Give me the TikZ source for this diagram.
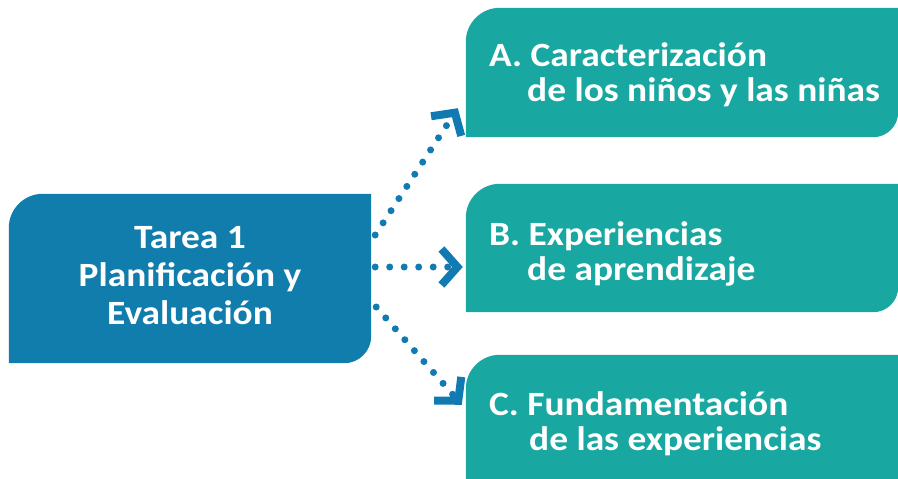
\documentclass[tikz,border=0pt]{standalone}
\usepackage{fontspec}
\setmainfont{Carlito}[FakeStretch=1.1]
\usetikzlibrary{arrows.meta,calc}
\definecolor{boxblue}{RGB}{16,125,172}
\definecolor{boxteal}{RGB}{25,167,161}
\definecolor{arrowblue}{RGB}{17,122,176}
\newcommand\tabshape[4]{%
  \fill[#2] (#1.south west) -- ([yshift=-#3]#1.north west)
    arc[start angle=180,end angle=90,radius=#3] -- (#1.north east)
    -- ([yshift=#4]#1.south east)
    arc[start angle=0,end angle=-90,radius=#4] -- cycle;}
\tikzset{
  boxnode/.style={rectangle, inner sep=0pt, minimum width=#1},
  lefttext/.style={text=white, font=\fontsize{34}{38}\selectfont\bfseries, align=center},
  righttext/.style={text=white, font=\fontsize{34}{35}\selectfont\bfseries, align=left, anchor=base west, inner sep=0pt},
  dotarrow/.style={draw=arrowblue, line width=7pt, line cap=round,
    dash pattern=on 0pt off 14.5pt,
    -{Straight Barb[length=16pt,width=36pt,line width=8pt,sharp]}}
}
\begin{document}
\begin{tikzpicture}[x=1pt,y=1pt]
\useasboundingbox (0,0) rectangle (898,-479);
\clip (0,0) rectangle (898,-479);
% boxes
\node[boxnode=362pt, minimum height=169pt] (L) at (190,-278.5) {};
\node[boxnode=432pt, minimum height=129pt] (A) at (682,-72.5) {};
\node[boxnode=432pt, minimum height=128pt] (B) at (682,-248) {};
\node[boxnode=432pt, minimum height=165pt] (C) at (682,-437.5) {};
\tabshape{L}{boxblue}{34pt}{27pt}
\tabshape{A}{boxteal}{34pt}{25pt}
\tabshape{B}{boxteal}{34pt}{25pt}
\tabshape{C}{boxteal}{34pt}{25pt}
% texts
\node[lefttext] (Lt) at (190,-276) {Tarea 1\\Planificación y\\Evaluación};
\node[righttext] (At) at (489,-101) {A.\ Caracterización\\\hspace*{38pt}de los niños y las niñas};
\node[righttext] (Bt) at (489,-280) {B.\ Experiencias\\\hspace*{38pt}de aprendizaje};
\node[righttext] (Ct) at (489,-450) {C.\ Fundamentación\\\hspace*{40pt}de las experiencias};
% connectors
\coordinate (Ls1) at ([shift={(4pt,43.5pt)}]L.east);
\coordinate (Ls2) at ([shift={(4pt,11.5pt)}]L.east);
\coordinate (Ls3) at ([shift={(5pt,-28.5pt)}]L.east);
\coordinate (Ae) at ([shift={(-8pt,29pt)}]A.south west);
\coordinate (Be) at ([shift={(-3pt,-19pt)}]B.west);
\coordinate (Ce) at ([shift={(-4pt,-50pt)}]C.north west);
\draw[dotarrow] (Ls1) -- (Ae);
\draw[dotarrow] (Ls2) -- (Be);
\draw[dotarrow] (Ls3) -- (Ce);
\end{tikzpicture}
\end{document}
